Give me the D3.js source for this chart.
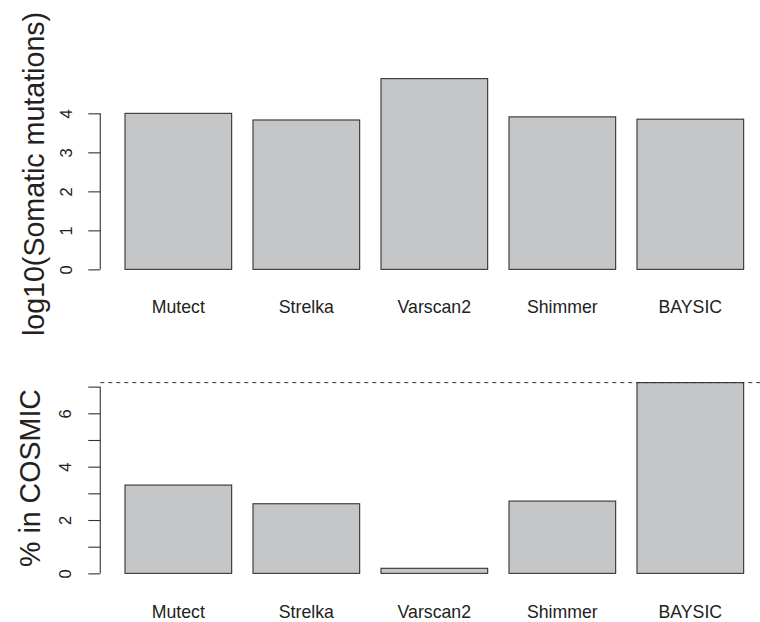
<!DOCTYPE html>
<html>
<head>
<meta charset="utf-8">
<script src="https://cdn.jsdelivr.net/npm/d3@7"></script>
<style>
  html, body { margin: 0; padding: 0; background: #ffffff; }
  svg { display: block; font-family: "Liberation Sans", Arial, Helvetica, sans-serif; }
</style>
</head>
<body>
<svg id="chart" width="760" height="622"></svg>
<script>
const categories = ["Mutect", "Strelka", "Varscan2", "Shimmer", "BAYSIC"];
const somaticLog10 = [4.00, 3.83, 4.89, 3.91, 3.85];
const pctCosmic = [3.31, 2.61, 0.19, 2.71, 7.15];
const topTicks = [0, 1, 2, 3, 4];
const bottomTicks = [0, 1, 2, 3, 4, 5, 6, 7];
const bottomTickLabels = ["0", "", "2", "", "4", "", "6", ""];
const topTitle = "log10(Somatic mutations)";
const bottomTitle = "% in COSMIC";

const svg = d3.select("#chart");
const fill = "#c5c6c8";
const stroke = "#333333";

// bar layout in R barplot user units: width 1, space 0.2
const barLeft = categories.map((c, i) => 0.2 + 1.2 * i);
const x = d3.scaleLinear().domain([-0.032, 6.232]).range([100.25, 768.4]);

function panel(cfg) {
  const g = svg.append("g");
  const maxV = d3.max(cfg.values);
  const y = d3.scaleLinear()
    .domain([-0.04 * maxV, maxV * 1.04])
    .range([cfg.bottom, cfg.top]);

  // bars
  g.selectAll("rect.bar").data(cfg.values).enter().append("rect")
    .attr("class", "bar")
    .attr("x", (d, i) => x(barLeft[i]))
    .attr("width", (d, i) => x(barLeft[i] + 1) - x(barLeft[i]))
    .attr("y", d => y(d))
    .attr("height", d => y(0) - y(d))
    .attr("fill", fill)
    .attr("stroke", stroke)
    .attr("stroke-width", 1.1);

  // y axis (R style)
  const axis = d3.axisLeft(y)
    .tickValues(cfg.ticks)
    .tickSize(12)
    .tickPadding(0)
    .tickFormat((d, i) => cfg.tickLabels ? cfg.tickLabels[i] : String(d));
  const ag = g.append("g")
    .attr("transform", `translate(${x.range()[0]},0)`)
    .call(axis);
  ag.select(".domain").remove();
  ag.append("line")
    .attr("x1", 0).attr("x2", 0)
    .attr("y1", y(cfg.ticks[0])).attr("y2", y(cfg.ticks[cfg.ticks.length - 1]))
    .attr("stroke", stroke).attr("stroke-width", 1.1);
  ag.selectAll(".tick line").attr("stroke", stroke).attr("stroke-width", 1.1);
  ag.selectAll(".tick text")
    .attr("x", null).attr("dy", null)
    .attr("transform", `translate(${cfg.tickBase - x.range()[0]},0) rotate(-90)`)
    .attr("text-anchor", "middle")
    .attr("fill", "#222")
    .style("font-size", "16.5px");

  // category names
  g.selectAll("text.name").data(categories).enter().append("text")
    .attr("class", "name")
    .attr("x", (d, i) => x(barLeft[i] + 0.5))
    .attr("y", cfg.nameBase)
    .attr("text-anchor", "middle")
    .attr("fill", "#222")
    .style("font-size", "17.7px")
    .text(d => d);

  // axis title
  g.append("text")
    .attr("transform", `translate(${cfg.titleBase},${(cfg.top + cfg.bottom) / 2}) rotate(-90)`)
    .attr("text-anchor", "middle")
    .attr("fill", "#222")
    .style("font-size", "28.6px")
    .text(cfg.title);

  return y;
}

panel({ values: somaticLog10, top: 71, bottom: 277, ticks: topTicks,
        tickBase: 72, nameBase: 313, titleBase: 43.5, title: topTitle });

const yb = panel({ values: pctCosmic, top: 375, bottom: 581, ticks: bottomTicks,
        tickLabels: bottomTickLabels, tickBase: 70.5, nameBase: 618, titleBase: 39.5, title: bottomTitle });

// dashed reference line at the maximum value
svg.append("line")
  .attr("x1", x.range()[0]).attr("x2", 760)
  .attr("y1", yb(d3.max(pctCosmic))).attr("y2", yb(d3.max(pctCosmic)))
  .attr("stroke", stroke)
  .attr("stroke-width", 1)
  .attr("stroke-dasharray", "4,4");
</script>
</body>
</html>
